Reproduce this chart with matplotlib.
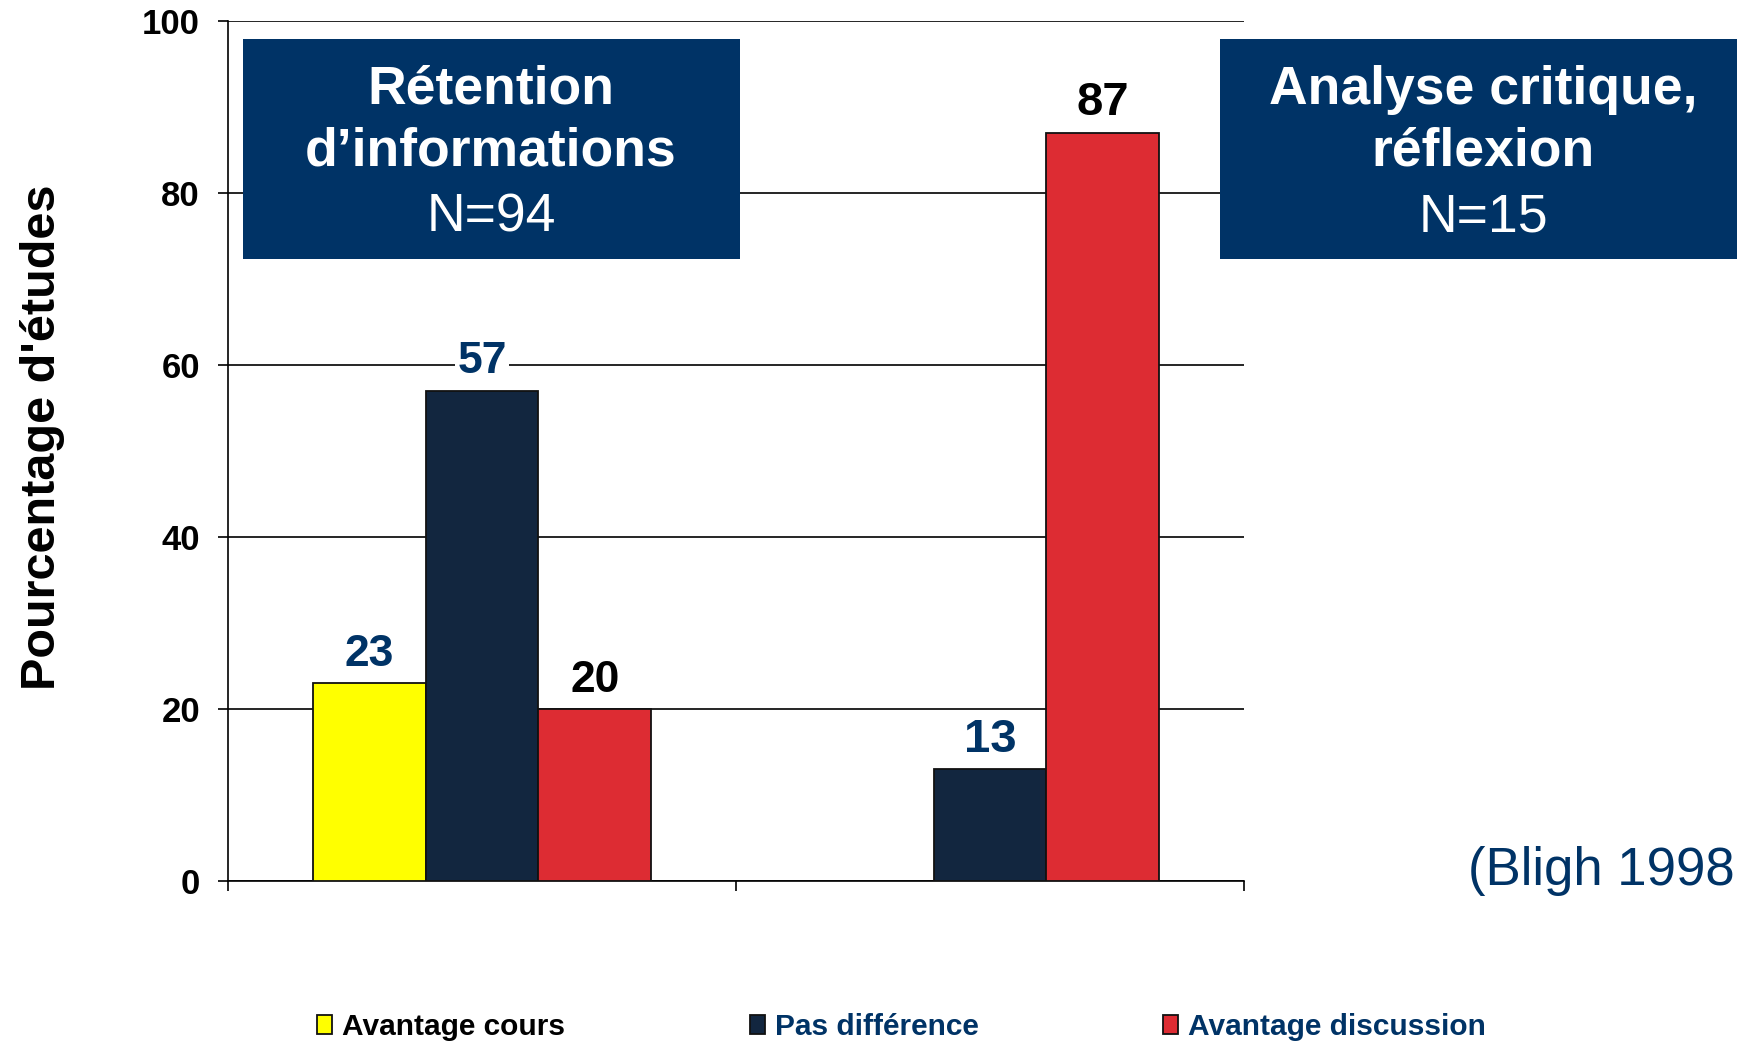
import matplotlib
matplotlib.use("Agg")
import matplotlib.pyplot as plt
from matplotlib import font_manager
from matplotlib.font_manager import FontProperties
from matplotlib.patches import Rectangle
import numpy as np

# donnees
groupes = ["Rétention d’informations", "Analyse critique, réflexion"]
titres = [["Rétention", "d’informations"], ["Analyse critique,", "réflexion"]]
effectifs = ["N=94", "N=15"]
series = ["Avantage cours", "Pas différence", "Avantage discussion"]
avantage_cours = [23, 0]
pas_difference = [57, 13]
avantage_discussion = [20, 87]
yticks = [0, 20, 40, 60, 80, 100]
ylabel = "Pourcentage d'études"
source = "(Bligh 1998"

W, H = 1737, 1043
NAVY = "#003366"
couleurs = ["#FFFF00", "#12263F", "#DD2C33"]
couleurs_etiq = [NAVY, NAVY, "black"]
couleurs_leg = ["black", NAVY, NAVY]


def police_dispo(nom, defaut):
    try:
        font_manager.findfont(FontProperties(family=nom), fallback_to_default=False)
        return nom
    except ValueError:
        return defaut


ARIAL = police_dispo("Liberation Sans", "DejaVu Sans")
NARROW = police_dispo("Liberation Sans Narrow", ARIAL)
plt.rcParams["font.family"] = ARIAL

fig = plt.figure(figsize=(W / 100, H / 100), dpi=100)
ax = fig.add_axes([228 / W, 1 - 881 / H, (1244 - 228) / W, (881 - 21) / H])

x = np.arange(len(groupes))
w = 0.222
valeurs = [avantage_cours, pas_difference, avantage_discussion]
barres = []
for i, vals in enumerate(valeurs):
    pos = x + (i - 1) * w
    b = ax.bar(pos, vals, w, color=couleurs[i], edgecolor="#111111",
               linewidth=1.3, label=series[i], zorder=3)
    barres.append(b)
    for g, (p, v, rect) in enumerate(zip(pos, vals, b)):
        if v == 0:
            rect.set_visible(False)
            continue
        # premier groupe en police etroite, second en normale
        if g == 0:
            fam, taille = NARROW, (35 if NARROW != ARIAL else 32)
        else:
            fam, taille = ARIAL, 34
        ax.annotate(str(v), (p, v), xytext=(0, 12.5), textcoords="offset points",
                    ha="center", va="baseline", fontsize=taille, family=fam,
                    fontweight="bold", color=couleurs_etiq[i], zorder=4,
                    bbox=dict(facecolor="white", edgecolor="none", pad=2))

ax.set_xlim(-0.5, 1.5)
ax.set_ylim(0, 100)
ax.set_yticks(yticks)
ax.set_yticklabels([str(t) for t in yticks], family=NARROW, fontweight="bold",
                   fontsize=25)
ax.set_xticks([-0.5, 0.5, 1.5])
ax.set_xticklabels([])
ax.tick_params(axis="y", length=7.2, width=1.2, pad=13, direction="out")
ax.tick_params(axis="x", length=7.2, width=1.2, direction="out")
ax.yaxis.grid(True, color="black", linewidth=1.2)
ax.set_axisbelow(True)
for s in ["top", "right"]:
    ax.spines[s].set_visible(False)
for s in ["left", "bottom"]:
    ax.spines[s].set_linewidth(1.2)
    ax.spines[s].set_color("black")

# encadres bleus (le second deborde a droite)
boites = [(243, 740), (1220, 1737)]
centres = [491, 1483]
for (x0, x1), cxp, lignes, n in zip(boites, centres, titres, effectifs):
    fig.add_artist(Rectangle((x0 / W, 1 - 259 / H), (x1 - x0) / W, (259 - 39) / H,
                             transform=fig.transFigure, facecolor=NAVY,
                             edgecolor="none", zorder=5))
    cx = cxp / W
    fig.text(cx, 1 - 104 / H, lignes[0], ha="center", va="baseline", color="white",
             fontsize=38.5, fontweight="bold", zorder=6)
    fig.text(cx, 1 - 166 / H, lignes[1], ha="center", va="baseline", color="white",
             fontsize=38.5, fontweight="bold", zorder=6)
    fig.text(cx, 1 - 231 / H, n, ha="center", va="baseline", color="white",
             fontsize=38.5, zorder=6)

fig.text(1468 / W, 1 - 885 / H, source, ha="left", va="baseline", color=NAVY,
         fontsize=38)

# titre axe y
fig.text(55 / W, 1 - 437 / H, ylabel, rotation=90, rotation_mode="anchor",
         ha="center", va="baseline", fontsize=35, fontweight="bold", color="black")

# legendes
for b, nom, hx, cl in zip(barres, series, [317, 750, 1163], couleurs_leg):
    leg = fig.legend([b], [nom], loc="center left", bbox_to_anchor=(hx / W, 1 - 1027 / H),
                     frameon=False, borderpad=0, borderaxespad=0, handlelength=0.5,
                     handleheight=0.6, handletextpad=0.35,
                     prop=FontProperties(family=ARIAL, weight="bold", size=21.5))
    leg.get_texts()[0].set_color(cl)

fig.savefig("out.png", dpi=100)
